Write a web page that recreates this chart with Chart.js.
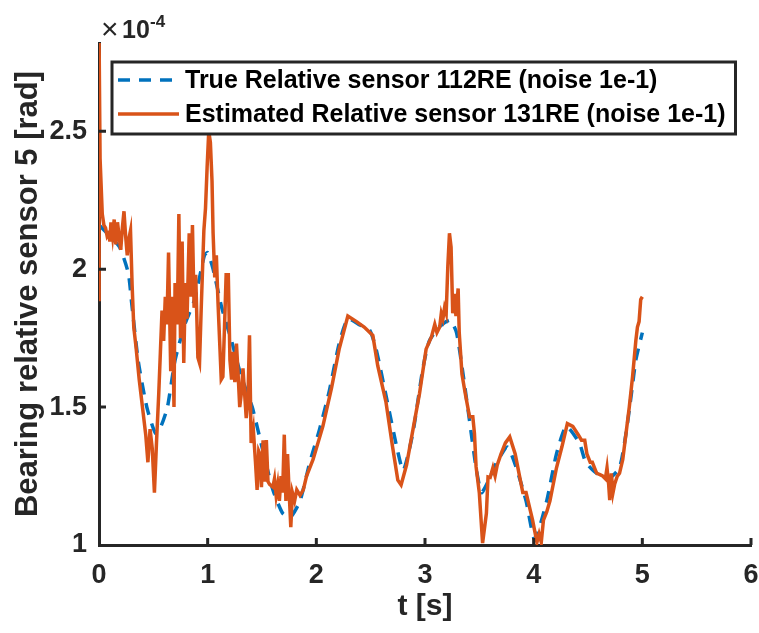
<!DOCTYPE html>
<html>
<head>
<meta charset="utf-8">
<script src="https://cdn.jsdelivr.net/npm/chart.js@4.4.0/dist/chart.umd.min.js"></script>
<style>
  html, body { margin: 0; padding: 0; background: #fff; }
  #wrap { width: 759px; height: 633px; }
</style>
</head>
<body>
<div id="wrap"><canvas id="chart" width="759" height="633"></canvas></div>
<script>
// values in units of 1e-4 rad
const tTrue = [0, 0.10, 0.19, 0.27, 0.30, 0.36, 0.44, 0.52, 0.57, 0.63, 0.70, 0.79, 0.88, 0.97, 1.00, 1.05, 1.13, 1.22, 1.31, 1.41, 1.50, 1.60, 1.69, 1.76, 1.85, 1.94, 2.03, 2.12, 2.21, 2.29, 2.39, 2.49, 2.55, 2.65, 2.74, 2.80, 2.89, 2.98, 3.04, 3.13, 3.23, 3.29, 3.35, 3.41, 3.47, 3.52, 3.58, 3.66, 3.76, 3.84, 3.93, 4.01, 4.12, 4.21, 4.30, 4.42, 4.48, 4.58, 4.70, 4.79, 4.85, 4.90, 4.94, 5.00];
const vTrue = [2.16, 2.12, 2.08, 1.985, 1.88, 1.67, 1.50, 1.405, 1.43, 1.50, 1.67, 1.80, 1.89, 2.05, 2.06, 2.00, 1.86, 1.74, 1.61, 1.50, 1.355, 1.20, 1.115, 1.10, 1.16, 1.30, 1.42, 1.56, 1.73, 1.82, 1.80, 1.78, 1.71, 1.525, 1.355, 1.27, 1.41, 1.64, 1.74, 1.79, 1.815, 1.77, 1.62, 1.45, 1.28, 1.19, 1.23, 1.30, 1.355, 1.28, 1.16, 1.02, 1.16, 1.33, 1.43, 1.37, 1.30, 1.26, 1.245, 1.28, 1.405, 1.55, 1.67, 1.77];

const tEst = [0, 0.001, 0.01, 0.03, 0.045, 0.06, 0.075, 0.09, 0.10, 0.11, 0.125, 0.14, 0.155, 0.17, 0.185, 0.20, 0.215, 0.23, 0.245, 0.26, 0.275, 0.29, 0.305, 0.32, 0.34, 0.37, 0.40, 0.43, 0.45, 0.47, 0.49, 0.51, 0.53, 0.55, 0.565, 0.58, 0.595, 0.61, 0.625, 0.64, 0.66, 0.675, 0.69, 0.70, 0.72, 0.735, 0.75, 0.765, 0.78, 0.795, 0.81, 0.83, 0.845, 0.86, 0.875, 0.89, 0.91, 0.925, 0.94, 0.965, 0.98, 0.995, 1.01, 1.025, 1.04, 1.05, 1.065, 1.08, 1.095, 1.11, 1.125, 1.14, 1.155, 1.17, 1.19, 1.205, 1.22, 1.235, 1.25, 1.265, 1.28, 1.295, 1.31, 1.325, 1.34, 1.355, 1.37, 1.385, 1.40, 1.42, 1.44, 1.455, 1.47, 1.48, 1.495, 1.51, 1.525, 1.54, 1.555, 1.57, 1.60, 1.615, 1.63, 1.645, 1.66, 1.675, 1.69, 1.705, 1.72, 1.735, 1.75, 1.765, 1.78, 1.80, 1.82, 1.85, 1.88, 1.91, 1.97, 2.06, 2.14, 2.21, 2.29, 2.37, 2.44, 2.52, 2.565, 2.64, 2.70, 2.75, 2.78, 2.83, 2.89, 2.95, 3.01, 3.06, 3.09, 3.11, 3.135, 3.15, 3.165, 3.18, 3.195, 3.21, 3.225, 3.24, 3.255, 3.27, 3.285, 3.305, 3.315, 3.34, 3.37, 3.41, 3.44, 3.455, 3.47, 3.50, 3.53, 3.565, 3.58, 3.60, 3.625, 3.645, 3.665, 3.70, 3.74, 3.78, 3.83, 3.87, 3.90, 3.93, 3.96, 3.99, 4.03, 4.05, 4.07, 4.09, 4.12, 4.15, 4.21, 4.26, 4.31, 4.36, 4.41, 4.44, 4.47, 4.49, 4.52, 4.54, 4.56, 4.58, 4.61, 4.635, 4.66, 4.675, 4.69, 4.70, 4.715, 4.73, 4.745, 4.77, 4.79, 4.82, 4.85, 4.88, 4.91, 4.94, 4.955, 4.97, 4.985, 5.00];
const vEst = [1.89, 2.82, 2.40, 2.20, 2.16, 2.15, 2.12, 2.13, 2.10, 2.17, 2.12, 2.18, 2.09, 2.17, 2.12, 2.07, 2.15, 2.21, 2.12, 2.05, 2.11, 2.14, 1.94, 1.79, 1.72, 1.60, 1.50, 1.40, 1.30, 1.42, 1.35, 1.19, 1.38, 1.55, 1.70, 1.85, 1.74, 1.90, 1.80, 2.06, 1.63, 1.90, 1.50, 1.95, 1.80, 2.20, 1.75, 2.10, 1.66, 1.95, 1.82, 2.13, 1.90, 2.16, 1.86, 1.98, 1.68, 1.66, 1.85, 2.14, 2.22, 2.37, 2.50, 2.46, 2.32, 2.13, 1.97, 2.05, 1.88, 1.74, 1.60, 1.61, 1.79, 1.98, 1.98, 1.67, 1.60, 1.70, 1.59, 1.73, 1.62, 1.50, 1.55, 1.64, 1.55, 1.46, 1.52, 1.76, 1.37, 1.42, 1.30, 1.20, 1.34, 1.33, 1.21, 1.38, 1.23, 1.38, 1.23, 1.22, 1.21, 1.24, 1.18, 1.22, 1.16, 1.25, 1.19, 1.40, 1.16, 1.33, 1.19, 1.065, 1.19, 1.16, 1.20, 1.18, 1.20, 1.25, 1.31, 1.43, 1.57, 1.71, 1.83, 1.81, 1.79, 1.76, 1.65, 1.52, 1.36, 1.235, 1.218, 1.29, 1.42, 1.55, 1.71, 1.755, 1.80, 1.77, 1.79, 1.84, 1.82, 1.86, 1.84, 2.01, 2.13, 2.08, 1.84, 1.91, 1.83, 1.93, 1.77, 1.62, 1.55, 1.465, 1.465, 1.405, 1.284, 1.188, 1.007, 1.115, 1.247, 1.245, 1.28, 1.25, 1.29, 1.33, 1.37, 1.392, 1.33, 1.25, 1.19, 1.19, 1.14, 1.09, 1.01, 1.04, 1.01, 1.09, 1.12, 1.16, 1.28, 1.356, 1.44, 1.43, 1.40, 1.38, 1.38, 1.33, 1.30, 1.30, 1.28, 1.26, 1.255, 1.25, 1.24, 1.28, 1.22, 1.163, 1.26, 1.19, 1.22, 1.25, 1.26, 1.31, 1.405, 1.50, 1.61, 1.74, 1.79, 1.81, 1.89, 1.90];

const xTicks = [0, 1, 2, 3, 4, 5, 6];
const yTicks = [1, 1.5, 2, 2.5];
const yTickLabels = ["1", "1.5", "2", "2.5"];
const seriesLabels = ["True Relative sensor 112RE (noise 1e-1)", "Estimated Relative sensor 131RE (noise 1e-1)"];

const AXIS = "#262626";
const FONT = "'Liberation Sans', Arial, Helvetica, sans-serif";

const toPoints = (ts, vs) => ts.map((t, i) => ({ x: t, y: vs[i] }));

// inward MATLAB-style tick marks
const innerTicks = {
  id: "innerTicks",
  afterDatasetsDraw(chart) {
    const { ctx, chartArea, scales } = chart;
    ctx.save();
    ctx.strokeStyle = AXIS;
    ctx.lineWidth = 3;
    ctx.beginPath();
    xTicks.forEach(v => {
      if (v === 0) return;
      const px = scales.x.getPixelForValue(v);
      ctx.moveTo(px, chartArea.bottom);
      ctx.lineTo(px, chartArea.bottom - 7);
    });
    yTicks.forEach(v => {
      if (v === 1) return;
      const py = scales.y.getPixelForValue(v);
      ctx.moveTo(chartArea.left, py);
      ctx.lineTo(chartArea.left + 7, py);
    });
    ctx.stroke();
    ctx.restore();
  }
};

// "x10^-4" exponent label and the boxed legend
const extras = {
  id: "extras",
  afterDraw(chart) {
    const { ctx } = chart;
    ctx.save();
    ctx.fillStyle = AXIS;
    ctx.textBaseline = "alphabetic";
    ctx.textAlign = "left";
    ctx.font = "30px " + FONT;
    ctx.fillText("\u00d7", 101, 39);
    ctx.font = "bold 25px " + FONT;
    ctx.fillText("10", 122, 38);
    ctx.font = "bold 17px " + FONT;
    ctx.fillText("-4", 150, 27);

    // legend
    const ds = chart.data.datasets;
    ctx.font = "bold 25px " + FONT;
    const textX = 185;
    const w = Math.max(...seriesLabels.map(s => ctx.measureText(s).width));
    const bx = 112, by = 62, bw = textX + w + 10 - bx, bh = 72;
    ctx.fillStyle = "#fff";
    ctx.fillRect(bx, by, bw, bh);
    ctx.strokeStyle = AXIS;
    ctx.lineWidth = 3;
    ctx.strokeRect(bx, by, bw, bh);
    const rows = [80, 114];
    rows.forEach((y, i) => {
      const d = ds[i];
      ctx.strokeStyle = d.borderColor;
      ctx.lineWidth = d.borderWidth;
      ctx.setLineDash(d.borderDash || []);
      ctx.beginPath();
      ctx.moveTo(118, y);
      ctx.lineTo(179, y);
      ctx.stroke();
      ctx.setLineDash([]);
      ctx.fillStyle = "#000";
      ctx.textBaseline = "middle";
      ctx.fillText(seriesLabels[i], textX, y + 1);
    });
    ctx.restore();
  }
};

new Chart(document.getElementById("chart"), {
  type: "line",
  data: {
    datasets: [
      {
        label: seriesLabels[0],
        data: toPoints(tTrue, vTrue),
        borderColor: "#0072BD",
        borderWidth: 3.5,
        borderDash: [12, 9],
        pointRadius: 0,
        tension: 0.2,
        order: 1
      },
      {
        label: seriesLabels[1],
        data: toPoints(tEst, vEst),
        borderColor: "#D95319",
        borderWidth: 3.5,
        pointRadius: 0,
        tension: 0,
        order: 0
      }
    ]
  },
  options: {
    responsive: false,
    animation: false,
    events: [],
    layout: { padding: { left: 0, right: 8, top: 43, bottom: 0 } },
    plugins: { legend: { display: false }, tooltip: { enabled: false } },
    scales: {
      x: {
        type: "linear",
        min: 0,
        max: 6,
        afterFit: s => { s.height = 88; s.paddingLeft = 0; s.paddingRight = 0; },
        afterBuildTicks: s => { s.ticks = xTicks.map(v => ({ value: v })); },
        grid: { display: false, drawTicks: false },
        border: { display: true, color: AXIS, width: 3 },
        ticks: { color: AXIS, padding: 14, font: { family: FONT, size: 27, weight: "bold" } },
        title: {
          display: true,
          text: "t [s]",
          color: AXIS,
          padding: { top: 0, bottom: 8 },
          font: { family: FONT, size: 30, weight: "bold" }
        }
      },
      y: {
        type: "linear",
        min: 1,
        max: 2.82,
        afterFit: s => { s.width = 99; s.paddingTop = 0; s.paddingBottom = 0; },
        afterBuildTicks: s => { s.ticks = yTicks.map(v => ({ value: v })); },
        grid: { display: false, drawTicks: false },
        border: { display: true, color: AXIS, width: 3 },
        ticks: {
          color: AXIS,
          padding: 12,
          font: { family: FONT, size: 27, weight: "bold" },
          callback: v => yTickLabels[yTicks.indexOf(v)]
        },
        title: {
          display: true,
          text: "Bearing relative sensor 5 [rad]",
          color: AXIS,
          padding: { top: 10, bottom: 0 },
          font: { family: FONT, size: 31, weight: "bold" }
        }
      }
    }
  },
  plugins: [innerTicks, extras]
});
</script>
</body>
</html>
